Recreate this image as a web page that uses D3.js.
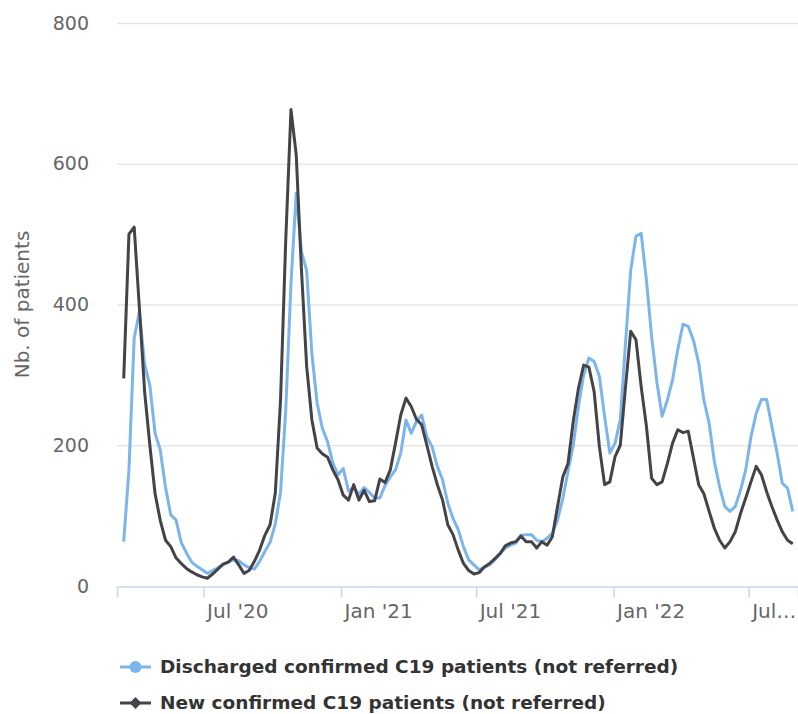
<!DOCTYPE html>
<html>
<head>
<meta charset="utf-8">
<script src="https://cdn.jsdelivr.net/npm/d3@7"></script>
<style>
  body { margin: 0; background: #fff; }
  svg { display: block; font-family: "DejaVu Sans", "Lucida Grande", sans-serif; }
</style>
</head>
<body>
<svg id="svgChart" width="798" height="714"></svg>
<script>
// weekly data, first week starts 16 March 2020
var startWeek = "2020-03-16";

var discharged = [63, 165, 352, 390, 315, 285, 217, 193, 140, 101, 94, 62, 47, 34, 28, 23,
  18, 22, 26, 30, 34, 37, 36, 30, 26, 24, 35, 49, 62, 88, 133, 250, 430, 558, 475, 448,
  330, 260, 224, 205, 175, 158, 167, 135, 140, 130, 140, 133, 125, 125, 143, 155, 165,
  189, 236, 217, 234, 243, 212, 198, 170, 151, 118, 96, 80, 56, 37, 30, 23, 27, 30, 37,
  46, 54, 58, 61, 72, 73, 73, 65, 63, 68, 75, 94, 124, 163, 200, 255, 300, 324, 319,
  298, 241, 189, 203, 236, 345, 449, 497, 501, 435, 354, 290, 241, 264, 293, 336, 372,
  369, 349, 317, 264, 231, 177, 141, 113, 106, 113, 136, 165, 212, 245, 265, 265, 227,
  189, 146, 139, 106];

var newPatients = [295, 500, 510, 395, 276, 200, 131, 93, 65, 56, 40, 32, 25, 20, 16, 13,
  11, 17, 24, 31, 34, 41, 30, 18, 22, 35, 51, 72, 87, 132, 264, 492, 677, 613, 450, 312,
  236, 196, 188, 183, 165, 151, 129, 122, 144, 122, 136, 120, 121, 152, 147, 165, 203,
  243, 267, 255, 237, 229, 200, 170, 144, 122, 87, 73, 51, 32, 22, 17, 19, 27, 32, 39,
  46, 57, 61, 63, 71, 63, 63, 54, 63, 58, 70, 113, 155, 174, 234, 281, 314, 311, 276,
  198, 144, 148, 184, 200, 283, 362, 350, 283, 227, 153, 144, 148, 174, 203, 222, 218,
  220, 182, 144, 131, 106, 82, 65, 54, 63, 77, 103, 125, 148, 170, 158, 134, 113, 94,
  77, 65, 60];

var xTicks = ["2020-07-01", "2021-01-01", "2021-07-01", "2022-01-01", "2022-07-01"];
var xTickLabels = ["Jul '20", "Jan '21", "Jul '21", "Jan '22", "Jul…"];
var yTicks = [0, 200, 400, 600, 800];

var seriesNames = ["Discharged confirmed C19 patients (not referred)",
  "New confirmed C19 patients (not referred)"];
var seriesColors = ["#7cb5ec", "#434348"];

var parseDay = d3.timeParse("%Y-%m-%d");
var first = parseDay(startWeek);
var dates = discharged.map(function(d, i) { return d3.timeDay.offset(first, i * 7); });

var svg = d3.select("#svgChart");
var margin = {top: 23, right: 0, bottom: 128, left: 117};
var width = +svg.attr("width") - margin.left - margin.right;
var height = +svg.attr("height") - margin.top - margin.bottom;
var g = svg.append("g")
  .attr("transform", "translate(" + margin.left + "," + margin.top + ")");

// x scale: first week sits a few px in from the left edge
var x = d3.scaleTime()
  .domain([d3.timeDay.offset(first, -8.3), d3.timeDay.offset(dates[dates.length - 1], 7.6)])
  .range([0, width]);
var y = d3.scaleLinear().domain([0, 800]).range([height, 0]);

// grid lines
g.append("g")
  .selectAll("line")
  .data(yTicks.slice(1))
  .enter().append("line")
  .attr("x1", 0)
  .attr("x2", width)
  .attr("y1", function(d) { return y(d) + 0.5; })
  .attr("y2", function(d) { return y(d) + 0.5; })
  .attr("stroke", "#e6e6e6")
  .attr("stroke-width", 1.5);

// y labels
g.append("g")
  .selectAll("text")
  .data(yTicks)
  .enter().append("text")
  .attr("x", -28)
  .attr("y", function(d) { return y(d); })
  .attr("dy", "0.35em")
  .attr("text-anchor", "end")
  .attr("fill", "#666666")
  .style("font-size", "19px")
  .text(function(d) { return d; });

// y axis title
g.append("text")
  .attr("transform", "rotate(-90)")
  .attr("x", -y(400))
  .attr("y", -88)
  .attr("text-anchor", "middle")
  .attr("fill", "#666666")
  .style("font-size", "20px")
  .text("Nb. of patients");

// x axis
var xAxis = d3.axisBottom(x)
  .tickValues(xTicks.map(parseDay))
  .tickSize(11)
  .tickFormat(function(d, i) { return xTickLabels[i]; });

var gx = g.append("g")
  .attr("transform", "translate(0," + (height + 0.5) + ")")
  .call(xAxis);
gx.select(".domain").attr("stroke", "#ccd6eb").attr("stroke-width", 1.5);
gx.selectAll(".tick line").attr("stroke", "#ccd6eb").attr("stroke-width", 1.5);
gx.selectAll(".tick text")
  .attr("fill", "#666666")
  .attr("text-anchor", "start")
  .attr("x", 3)
  .attr("y", 17)
  .style("font-size", "20px")
  .style("font-family", "DejaVu Sans, sans-serif");

// lines
var valueline = d3.line()
  .x(function(d) { return x(d[0]); })
  .y(function(d) { return y(d[1]); });

[discharged, newPatients].forEach(function(values, s) {
  g.append("path")
    .attr("fill", "none")
    .attr("stroke", seriesColors[s])
    .attr("stroke-width", 3)
    .attr("stroke-linejoin", "round")
    .attr("d", valueline(values.map(function(v, i) { return [dates[i], v]; })));
});

// legend
var legend = svg.append("g").attr("transform", "translate(120,667)");
seriesNames.forEach(function(name, s) {
  var item = legend.append("g").attr("transform", "translate(0," + (s * 36) + ")");
  item.append("line")
    .attr("x1", 0).attr("x2", 31)
    .attr("stroke", seriesColors[s])
    .attr("stroke-width", 3);
  if (s === 0) {
    item.append("circle").attr("cx", 15.5).attr("r", 6).attr("fill", seriesColors[s]);
  } else {
    item.append("path")
      .attr("d", d3.symbol().type(d3.symbolDiamond2).size(90))
      .attr("transform", "translate(15.5,0)")
      .attr("fill", seriesColors[s]);
  }
  item.append("text")
    .attr("x", 40)
    .attr("dy", "0.35em")
    .attr("fill", "#333333")
    .style("font-weight", "bold")
    .style("font-size", "18.5px")
    .text(name);
});
</script>
</body>
</html>
